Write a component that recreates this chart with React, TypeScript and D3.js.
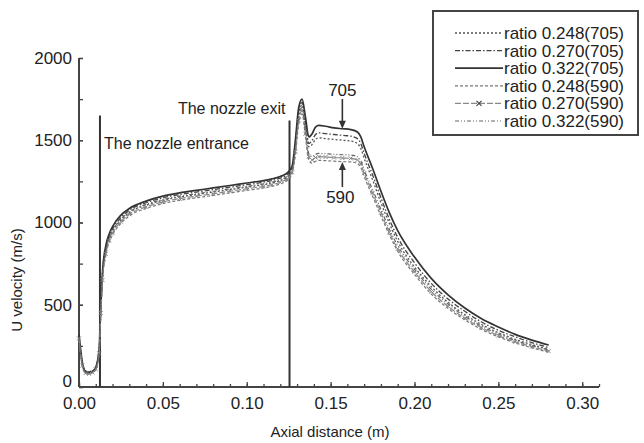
import React, { useEffect, useRef } from 'react';
import * as d3 from 'd3';

// axial positions (m) shared by every series
const axialX = [
  0, 0.002, 0.004, 0.006, 0.008, 0.010, 0.012, 0.013, 0.014, 0.016, 0.018, 0.020, 0.025, 0.030,
  0.040, 0.050, 0.060, 0.070, 0.080, 0.090, 0.100, 0.110, 0.115, 0.120, 0.124, 0.127, 0.129,
  0.131, 0.133, 0.135, 0.137, 0.139, 0.141, 0.143, 0.147, 0.152, 0.157, 0.162, 0.166, 0.168,
  0.170, 0.175, 0.180, 0.185, 0.190, 0.200, 0.210, 0.220, 0.230, 0.240, 0.250, 0.260, 0.270, 0.280,
];

// U velocity (m/s)
const ratio248_705 = [
  300, 135, 88, 82, 90, 110, 210, 460, 660, 820, 900, 945, 1015, 1060, 1105, 1135, 1155, 1170, 1185,
  1200, 1215, 1230, 1240, 1255, 1275, 1315, 1460, 1660, 1715, 1590, 1460, 1475, 1505, 1515, 1510,
  1505, 1500, 1495, 1480, 1450, 1390, 1260, 1120, 995, 885, 730, 610, 515, 440, 380, 330, 290, 258, 230,
];
const ratio270_705 = [
  310, 140, 90, 85, 92, 115, 220, 480, 680, 840, 915, 960, 1030, 1075, 1120, 1150, 1170, 1185, 1200,
  1215, 1230, 1245, 1255, 1270, 1290, 1330, 1480, 1680, 1730, 1610, 1480, 1500, 1535, 1545, 1540,
  1535, 1530, 1525, 1510, 1480, 1420, 1290, 1150, 1020, 910, 755, 630, 535, 460, 395, 345, 305, 270, 240,
];
const ratio322_705 = [
  320, 150, 95, 90, 95, 120, 230, 500, 700, 860, 930, 975, 1045, 1085, 1130, 1160, 1180, 1195, 1210,
  1225, 1240, 1255, 1265, 1280, 1300, 1340, 1500, 1700, 1750, 1640, 1520, 1540, 1580, 1590, 1585,
  1575, 1570, 1565, 1550, 1520, 1460, 1330, 1190, 1060, 950, 790, 660, 560, 480, 415, 365, 320, 285, 255,
];
const ratio248_590 = [
  290, 125, 82, 78, 86, 105, 200, 440, 640, 800, 880, 925, 995, 1040, 1085, 1115, 1135, 1150, 1165,
  1180, 1195, 1210, 1220, 1235, 1255, 1295, 1410, 1600, 1660, 1520, 1380, 1360, 1372, 1378, 1376,
  1373, 1370, 1368, 1358, 1335, 1280, 1160, 1040, 925, 825, 685, 565, 478, 408, 350, 305, 268, 238, 212,
];
const ratio270_590 = [
  295, 130, 85, 80, 88, 108, 205, 450, 650, 810, 890, 935, 1005, 1050, 1095, 1125, 1145, 1160, 1175,
  1190, 1205, 1220, 1230, 1245, 1265, 1305, 1430, 1620, 1680, 1540, 1400, 1380, 1395, 1400, 1398,
  1395, 1392, 1390, 1380, 1355, 1300, 1180, 1060, 940, 840, 700, 580, 490, 418, 360, 313, 275, 245, 218,
];
const ratio322_590 = [
  305, 140, 90, 84, 92, 112, 215, 470, 670, 830, 905, 950, 1020, 1065, 1110, 1140, 1160, 1175, 1190,
  1205, 1220, 1235, 1245, 1260, 1280, 1320, 1450, 1640, 1700, 1560, 1420, 1400, 1415, 1420, 1418,
  1415, 1412, 1410, 1400, 1375, 1320, 1200, 1080, 960, 860, 715, 595, 505, 430, 370, 322, 283, 252, 225,
];

const seriesNames = [
  'ratio 0.248(705)', 'ratio 0.270(705)', 'ratio 0.322(705)',
  'ratio 0.248(590)', 'ratio 0.270(590)', 'ratio 0.322(590)',
];
const seriesValues = [ratio248_705, ratio270_705, ratio322_705, ratio248_590, ratio270_590, ratio322_590];

const xMajorTicks = [0, 0.05, 0.10, 0.15, 0.20, 0.25, 0.30];
const yMajorTicks = [0, 500, 1000, 1500, 2000];

// nozzle entrance / exit positions (m)
const nozzleEntrance = 0.0125;
const nozzleExit = 0.1255;

const FONT = '"Liberation Sans", Arial, sans-serif';

export default function App() {
  const ref = useRef<SVGSVGElement>(null);

  useEffect(() => {
    const svg = d3.select(ref.current);
    svg.selectAll('*').remove();

    const x = d3.scaleLinear().domain([0, 0.31]).range([79, 599]);
    const y = d3.scaleLinear().domain([0, 2000]).range([387, 58]);

    // styles for each series, same order as seriesNames
    const styles = [
      { dash: '2,2', color: '#555', width: 1.3, cross: false },
      { dash: '5,2,1.5,2', color: '#444', width: 1.3, cross: false },
      { dash: null, color: '#333', width: 1.7, cross: false },
      { dash: '3,2', color: '#777', width: 1.2, cross: false },
      { dash: '6,2', color: '#888', width: 1.2, cross: true },
      { dash: '4,2,1,2,1,2', color: '#666', width: 1.2, cross: false },
    ];

    // axes: ticks point inward
    const xg = svg.append('g').attr('transform', `translate(0,${y(0)})`);
    xg.call(d3.axisBottom(x).tickValues(d3.range(0, 0.3101, 0.01)).tickSize(-3).tickSizeOuter(0).tickFormat(() => ''));
    xg.call(g => g.select('.domain').remove());
    const xg2 = svg.append('g').attr('transform', `translate(0,${y(0)})`);
    xg2.call(d3.axisBottom(x).tickValues(xMajorTicks).tickSize(-5).tickPadding(10).tickFormat(d3.format('.2f')));
    xg2.select('.domain').remove();

    const yg = svg.append('g').attr('transform', `translate(${x(0)},0)`);
    yg.call(d3.axisLeft(y).tickValues(d3.range(0, 2001, 250)).tickSize(-4).tickSizeOuter(0).tickFormat(() => ''));
    yg.select('.domain').remove();
    const yg2 = svg.append('g').attr('transform', `translate(${x(0)},0)`);
    yg2.call(d3.axisLeft(y).tickValues(yMajorTicks).tickSize(-4).tickPadding(7).tickFormat(d3.format('d')));
    yg2.select('.domain').remove();
    // the 0 label sits just above the 0.00 label, as in the original
    yg2.selectAll<SVGTextElement, number>('.tick text').filter(d => d === 0).attr('dy', '-0.05em');

    svg.selectAll('.tick line').attr('stroke', '#444').attr('stroke-width', 1.3);
    svg.selectAll('.tick text').attr('font-family', FONT).attr('font-size', 17).attr('fill', '#222');

    svg.append('line')
      .attr('x1', x(0)).attr('x2', x(0.31)).attr('y1', y(0)).attr('y2', y(0))
      .attr('stroke', '#444').attr('stroke-width', 2);
    svg.append('line')
      .attr('x1', x(0)).attr('x2', x(0)).attr('y1', y(0)).attr('y2', y(2000))
      .attr('stroke', '#444').attr('stroke-width', 2);

    svg.append('text')
      .attr('x', 330).attr('y', 437).attr('text-anchor', 'middle')
      .attr('font-family', FONT).attr('font-size', 15).attr('fill', '#222')
      .text('Axial distance (m)');
    svg.append('text')
      .attr('transform', `translate(22,${280}) rotate(-90)`).attr('text-anchor', 'middle')
      .attr('font-family', FONT).attr('font-size', 15).attr('fill', '#222')
      .text('U velocity (m/s)');

    // nozzle lines
    svg.append('line')
      .attr('x1', x(nozzleEntrance)).attr('x2', x(nozzleEntrance)).attr('y1', y(0)).attr('y2', y(1650))
      .attr('stroke', '#333').attr('stroke-width', 2);
    svg.append('line')
      .attr('x1', x(nozzleExit)).attr('x2', x(nozzleExit)).attr('y1', y(0)).attr('y2', y(1620))
      .attr('stroke', '#333').attr('stroke-width', 2);
    svg.append('text')
      .attr('x', x(nozzleEntrance) + 4).attr('y', 149)
      .attr('font-family', FONT).attr('font-size', 16).attr('fill', '#222')
      .text('The nozzle entrance');
    svg.append('text')
      .attr('x', x(nozzleExit) - 4).attr('y', 114).attr('text-anchor', 'end')
      .attr('font-family', FONT).attr('font-size', 16).attr('fill', '#222')
      .text('The nozzle exit');

    // curves
    const line = d3.line<number>()
      .x((_, i) => x(axialX[i]))
      .y(d => y(d))
      .curve(d3.curveMonotoneX);

    seriesValues.forEach((vals, k) => {
      const s = styles[k];
      svg.append('path')
        .attr('d', line(vals))
        .attr('fill', 'none')
        .attr('stroke', s.color)
        .attr('stroke-width', s.width)
        .attr('stroke-dasharray', s.dash);
      if (s.cross) {
        svg.append('g').selectAll('path')
          .data(vals)
          .join('path')
          .attr('transform', (d, i) => `translate(${x(axialX[i])},${y(d)})`)
          .attr('d', 'M-2,-2L2,2M-2,2L2,-2')
          .attr('stroke', s.color).attr('stroke-width', 1);
      }
    });

    // arrows
    const arrow = (cx: number, fromY: number, tipY: number) => {
      const dir = tipY > fromY ? 1 : -1;
      svg.append('line')
        .attr('x1', cx).attr('x2', cx).attr('y1', fromY).attr('y2', tipY - dir * 6)
        .attr('stroke', '#333').attr('stroke-width', 1.6);
      svg.append('path')
        .attr('d', `M${cx},${tipY}L${cx - 3.5},${tipY - dir * 8}L${cx + 3.5},${tipY - dir * 8}Z`)
        .attr('fill', '#333');
    };
    const ax = x(0.157);
    svg.append('text')
      .attr('x', ax).attr('y', 96).attr('text-anchor', 'middle')
      .attr('font-family', FONT).attr('font-size', 17).attr('fill', '#222').text('705');
    arrow(ax, 99, y(1570));
    svg.append('text')
      .attr('x', ax - 2).attr('y', 203).attr('text-anchor', 'middle')
      .attr('font-family', FONT).attr('font-size', 17).attr('fill', '#222').text('590');
    arrow(ax, 187, y(1368));

    // legend
    const lg = svg.append('g');
    lg.append('rect')
      .attr('x', 433).attr('y', 11).attr('width', 205).attr('height', 124)
      .attr('fill', '#fff').attr('stroke', '#444').attr('stroke-width', 2);
    seriesNames.forEach((name, k) => {
      const s = styles[k];
      const ry = 33 + k * 17.6;
      lg.append('line')
        .attr('x1', 455).attr('x2', 503).attr('y1', ry).attr('y2', ry)
        .attr('stroke', s.color).attr('stroke-width', s.width).attr('stroke-dasharray', s.dash);
      if (s.cross) {
        lg.append('path')
          .attr('transform', `translate(479,${ry})`)
          .attr('d', 'M-2.5,-2.5L2.5,2.5M-2.5,2.5L2.5,-2.5')
          .attr('stroke', '#444').attr('stroke-width', 1.2);
      }
      lg.append('text')
        .attr('x', 504).attr('y', ry).attr('dy', '0.35em')
        .attr('font-family', FONT).attr('font-size', 17).attr('fill', '#222')
        .text(name);
    });
  }, []);

  return (
    <svg
      ref={ref}
      width={644}
      height={443}
      style={{ position: 'absolute', left: 0, top: 0, background: '#fff' }}
    />
  );
}
